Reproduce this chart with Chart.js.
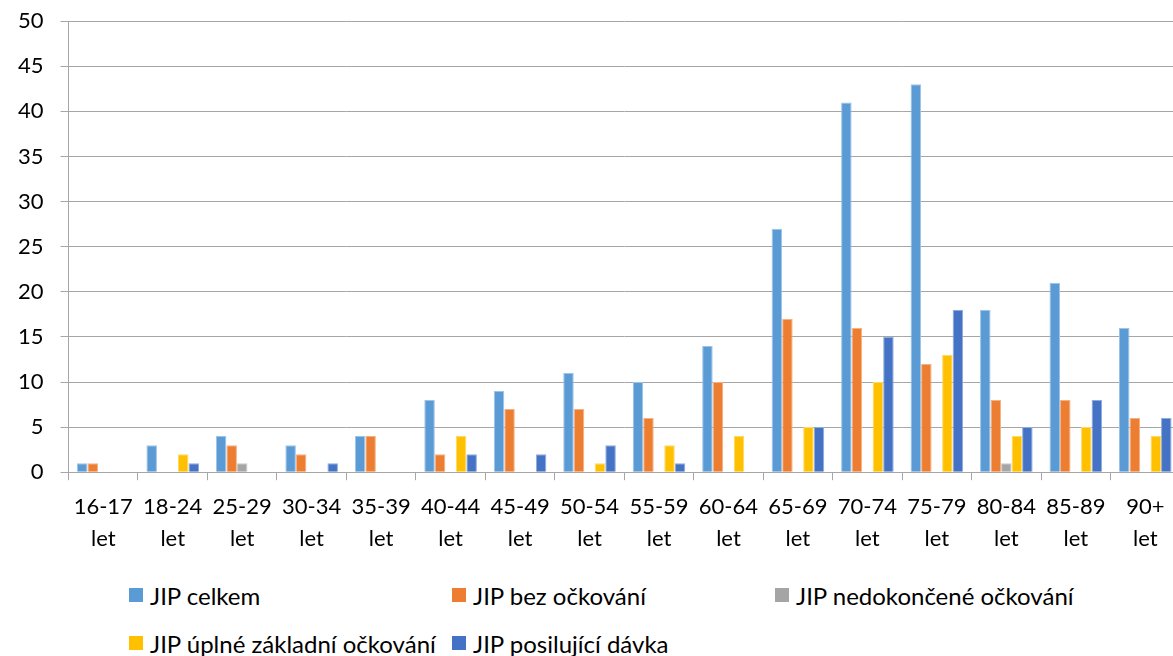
<!DOCTYPE html>
<html lang="cs">
<head>
<meta charset="UTF-8">
<title>JIP podle věku</title>
<script src="https://cdn.jsdelivr.net/npm/chart.js"></script>
<style>
  html, body { margin: 0; padding: 0; background: #fff; overflow: hidden; }
  body { width: 1173px; height: 656px; position: relative; font-family: Lato, sans-serif; }
  #wrap { position: absolute; left: 0; top: -9px; width: 1180px; height: 575px; }
  #legend { position: absolute; left: 129px; top: 571px; font-size: 24px; color: #000; }
  .row { display: flex; align-items: center; height: 48px; }
  .item { display: flex; align-items: center; white-space: nowrap; width: 323px; }
  .box { width: 14px; height: 14px; margin-right: 7px; flex: none; }
</style>
</head>
<body>
<div id="wrap"><canvas id="chart"></canvas></div>
<div id="legend"></div>
<script>
// age groups
const categories = ['16-17 let', '18-24 let', '25-29 let', '30-34 let', '35-39 let', '40-44 let',
  '45-49 let', '50-54 let', '55-59 let', '60-64 let', '65-69 let', '70-74 let', '75-79 let',
  '80-84 let', '85-89 let', '90+ let'];

const seriesNames = ['JIP celkem', 'JIP bez očkování', 'JIP nedokončené očkování',
  'JIP úplné základní očkování', 'JIP posilující dávka'];

const jipCelkem      = [1, 3, 4, 3, 4, 8, 9, 11, 10, 14, 27, 41, 43, 18, 21, 16];
const jipBez         = [1, 0, 3, 2, 4, 2, 7, 7, 6, 10, 17, 16, 12, 8, 8, 6];
const jipNedokoncene = [0, 0, 1, 0, 0, 0, 0, 0, 0, 0, 0, 0, 0, 1, 0, 0];
const jipUplne       = [0, 2, 0, 0, 0, 4, 0, 1, 3, 4, 5, 10, 13, 4, 5, 4];
const jipPosilujici  = [0, 1, 0, 1, 0, 2, 2, 3, 1, 0, 5, 15, 18, 5, 8, 6];

const yTicks = [0, 5, 10, 15, 20, 25, 30, 35, 40, 45, 50];

const colors = ['#5B9BD5', '#ED7D31', '#A5A5A5', '#FFC000', '#4472C4'];
const edges  = ['#9DC3E6', '#F4B183', '#C9C9C9', '#FFD966', '#8FAADC'];

const seriesValues = [jipCelkem, jipBez, jipNedokoncene, jipUplne, jipPosilujici];

const datasets = seriesNames.map((name, i) => ({
  label: name,
  data: seriesValues[i],
  backgroundColor: colors[i],
  borderColor: edges[i],
  borderWidth: { top: 1, left: 1, right: 1, bottom: 0 },
  borderSkipped: 'start',
  barPercentage: 1,
  categoryPercentage: 0.757
}));

const gridGray = '#a6a6a6';

new Chart(document.getElementById('chart'), {
  type: 'bar',
  data: {
    labels: categories.map(c => c.split(' ')),
    datasets: datasets
  },
  options: {
    responsive: true,
    maintainAspectRatio: false,
    animation: false,
    layout: { padding: { left: 1, right: 0, top: 1, bottom: 0 } },
    plugins: {
      legend: { display: false },
      tooltip: { enabled: false }
    },
    scales: {
      x: {
        grid: {
          display: true,
          drawOnChartArea: false,
          drawTicks: true,
          tickLength: 8,
          color: gridGray,
          offset: true
        },
        border: { display: true, color: gridGray, width: 1 },
        ticks: {
          color: '#000',
          font: { family: 'Lato', size: 22, lineHeight: 1.45 },
          padding: 11,
          maxRotation: 0,
          autoSkip: false
        }
      },
      y: {
        min: 0,
        max: 50,
        afterBuildTicks: axis => { axis.ticks = yTicks.map(v => ({ value: v })); },
        grid: { color: gridGray, tickLength: 8, lineWidth: 1 },
        border: { display: true, color: gridGray, width: 1 },
        ticks: {
          color: '#000',
          font: { family: 'Lato', size: 22 },
          padding: 17
        }
      }
    }
  }
});

// legend laid out in columns like the original
const legend = document.getElementById('legend');
const rows = [[0, 1, 2], [3, 4]];
rows.forEach(r => {
  const row = document.createElement('div');
  row.className = 'row';
  r.forEach(i => {
    const item = document.createElement('div');
    item.className = 'item';
    const box = document.createElement('span');
    box.className = 'box';
    box.style.background = colors[i];
    const txt = document.createElement('span');
    txt.textContent = seriesNames[i];
    item.appendChild(box);
    item.appendChild(txt);
    row.appendChild(item);
  });
  legend.appendChild(row);
});
</script>
</body>
</html>
